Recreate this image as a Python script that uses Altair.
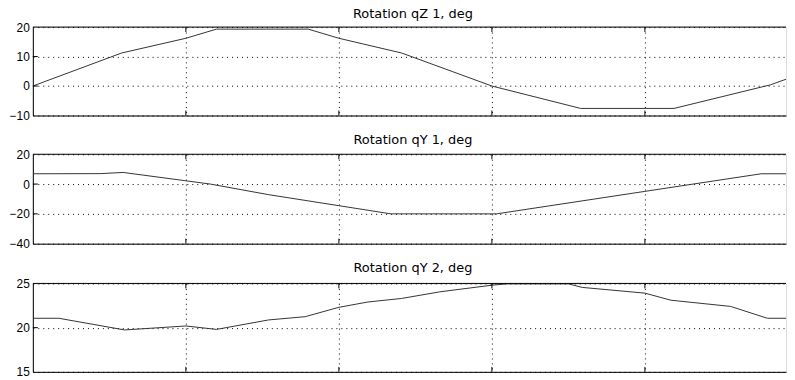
import altair as alt
import pandas as pd

# ---- data ----
X_MAX = 4.922          # visible part of the time axis (gridlines at 1..4)
x_grid = [1, 2, 3, 4]

qz1_x = [0, 0.58, 1.0, 1.2, 1.8, 2.0, 2.41, 3.0, 3.58, 4.19, 4.82, 4.97]
qz1_y = [0, 11.2, 16.2, 19.3, 19.3, 16.2, 11.2, 0, -7.6, -7.6, 0.4, 3.2]

qy1_x = [0, 0.44, 0.59, 1.0, 1.16, 1.54, 2.0, 2.34, 3.03, 4.0, 4.76, 4.97]
qy1_y = [6.9, 7.0, 7.8, 2.2, 0, -7.1, -14.5, -20, -20, -4.9, 6.9, 6.9]

qy2_x = [0, 0.17, 0.60, 1.0, 1.2, 1.54, 1.78, 2.0, 2.19, 2.41, 2.66, 3.0, 3.1,
         3.5, 3.59, 4.0, 4.17, 4.56, 4.80, 4.97]
qy2_y = [21.06, 21.06, 19.74, 20.19, 19.8, 20.87, 21.24, 22.3, 22.9, 23.3, 24.05,
         24.8, 24.95, 24.95, 24.55, 23.9, 23.1, 22.4, 21.06, 21.06]

titles = ["Rotation qZ 1, deg", "Rotation qY 1, deg", "Rotation qY 2, deg"]
y_domains = [[-10, 20], [-40, 20], [15, 25]]
y_ticks = [[-10, 0, 10, 20], [-40, -20, 0, 20], [15, 20, 25]]

W = 758
heights = [89, 90, 89]
offsets = [0, 1, 2]


def panel(xs, ys, title, dom, ticks, h, off):
    df = pd.DataFrame({"t": xs, "v": ys})
    xscale = alt.Scale(domain=[0, X_MAX], nice=False, zero=False)
    yscale = alt.Scale(domain=dom, nice=False, zero=False)
    xaxis = alt.Axis(values=x_grid, labels=False, ticks=False, grid=True,
                     domain=True, title=None, gridDash=[1, 4], gridColor="black",
                     gridOpacity=1, gridWidth=1, domainColor="black", domainWidth=1)
    yaxis = alt.Axis(values=ticks, labels=True, ticks=False, grid=True, domain=True,
                     title=None, gridDash=[1, 4], gridColor="black", gridOpacity=1,
                     gridWidth=1, domainColor="black", domainWidth=1,
                     labelFont="Liberation Sans", labelFontSize=12, labelColor="black",
                     labelPadding=3.5, minExtent=21, maxExtent=21)
    line = alt.Chart(df).mark_line(color="#333333", strokeWidth=1, clip=True).encode(
        x=alt.X("t:Q", scale=xscale, axis=xaxis),
        y=alt.Y("v:Q", scale=yscale, axis=yaxis),
    )
    one = pd.DataFrame({"k": [0]})
    top = alt.Chart(one).mark_rule(color="black", strokeWidth=1).encode(
        x=alt.XDatum(0, axis=xaxis, scale=xscale),
        x2=alt.X2Datum(X_MAX),
        y=alt.YDatum(dom[1], axis=yaxis, scale=yscale),
    )
    gdf = pd.DataFrame({"t": x_grid})
    tick_b = alt.Chart(gdf).mark_rule(color="black", strokeWidth=1).encode(
        x=alt.X("t:Q", scale=xscale, axis=xaxis), y=alt.value(h), y2=alt.value(h - 5))
    tick_t = alt.Chart(gdf).mark_rule(color="black", strokeWidth=1).encode(
        x=alt.X("t:Q", scale=xscale, axis=xaxis), y=alt.value(0), y2=alt.value(5))
    ydf = pd.DataFrame({"v": ticks[1:-1]})
    tick_l = alt.Chart(ydf).mark_rule(color="black", strokeWidth=1).encode(
        y=alt.Y("v:Q", scale=yscale, axis=yaxis), x=alt.value(0), x2=alt.value(5))
    return alt.layer(line, top, tick_b, tick_t, tick_l).properties(
        width=W, height=h,
        title=alt.TitleParams(title, font="DejaVu Sans", fontSize=13,
                              fontWeight="normal", color="black", offset=off,
                              dx=3.5, anchor="middle"),
    )


series = [(qz1_x, qz1_y), (qy1_x, qy1_y), (qy2_x, qy2_y)]
panels = [panel(s[0], s[1], titles[i], y_domains[i], y_ticks[i], heights[i], offsets[i])
          for i, s in enumerate(series)]

chart = alt.vconcat(*panels, spacing=11).properties(
    padding={"top": -2, "left": 0, "right": 0, "bottom": 0}
).configure_view(strokeWidth=0).configure(background="white")

chart.save("out.html", embed_options={"renderer": "svg", "actions": False})
